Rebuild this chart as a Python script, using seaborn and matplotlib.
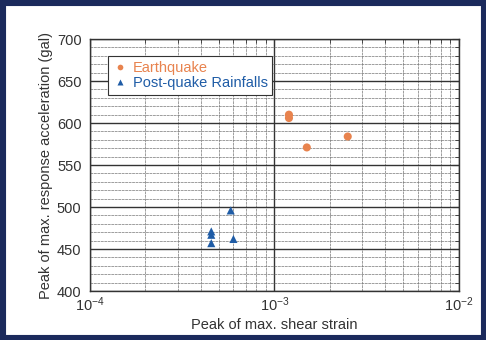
import numpy as np
import pandas as pd
import matplotlib.pyplot as plt
import seaborn as sns
from matplotlib.ticker import LogLocator, MultipleLocator, FixedLocator
from matplotlib.patches import Rectangle

# values
quake_strain = [1.2e-3, 1.2e-3, 1.5e-3, 2.5e-3]
quake_acc = [610, 606, 571, 584]
rain_strain = [4.55e-4, 4.55e-4, 4.55e-4, 5.8e-4, 6.0e-4]
rain_acc = [471, 467, 457, 496, 462]
labels = ["Earthquake", "Post-quake Rainfalls"]

df = pd.DataFrame({
    "strain": quake_strain + rain_strain,
    "acc": quake_acc + rain_acc,
    "case": [labels[0]] * len(quake_strain) + [labels[1]] * len(rain_strain),
})

sns.set_style("white")
plt.rcParams["font.family"] = ["Liberation Sans", "DejaVu Sans"]
plt.rcParams["mathtext.fontset"] = "custom"
plt.rcParams["mathtext.rm"] = "Liberation Sans"
plt.rcParams["mathtext.it"] = "Liberation Sans:italic"
plt.rcParams["mathtext.bf"] = "Liberation Sans:bold"

fig = plt.figure(figsize=(4.86, 3.4), dpi=100, facecolor="white")
# dark slide border
fig.patches.append(Rectangle((0, 0), 1, 1, transform=fig.transFigure,
                             fill=False, edgecolor="#1b2a5c", linewidth=8))
ax = fig.add_axes([0.185, 0.144, 0.759, 0.741])

colors = {labels[0]: "#e8834e", labels[1]: "#1f5ca6"}
sns.scatterplot(data=df, x="strain", y="acc", hue="case", style="case",
                markers={labels[0]: "o", labels[1]: "^"}, palette=colors,
                s=34, edgecolor="none", ax=ax, zorder=3)

ax.set_xscale("log")
ax.set_xlim(1e-4, 1e-2)
ax.set_ylim(400, 700)
ax.yaxis.set_major_locator(MultipleLocator(50))
ax.yaxis.set_minor_locator(MultipleLocator(10))
ax.xaxis.set_major_locator(FixedLocator([1e-4, 1e-3, 1e-2]))
ax.xaxis.set_minor_locator(LogLocator(base=10, subs=np.arange(2, 10)))
ax.set_xticklabels([r"$\mathregular{10^{-4}}$", r"$\mathregular{10^{-3}}$",
                    r"$\mathregular{10^{-2}}$"])

ax.grid(which="major", color="#333333", linewidth=1.0)
ax.grid(which="minor", color="#777777", linewidth=0.5, linestyle=(0, (4, 1)))
ax.set_axisbelow(True)
for sp in ax.spines.values():
    sp.set_color("#333333")
    sp.set_linewidth(1.0)
ax.tick_params(which="both", direction="in", top=True, right=True,
               color="#333333", labelsize=10.5, labelcolor="#333333")
ax.tick_params(which="major", length=5)
ax.tick_params(which="minor", length=3)
ax.tick_params(axis="x", pad=3)
ax.tick_params(axis="y", pad=6)

ax.set_xlabel("Peak of max. shear strain", fontsize=10.5, color="#333333",
              labelpad=3)
ax.set_ylabel("Peak of max. response acceleration (gal)", fontsize=10.5,
              color="#333333", labelpad=3)

leg = ax.legend(loc="upper left", bbox_to_anchor=(0.03, 0.96), fontsize=10.5,
                frameon=True, fancybox=False, shadow=False, edgecolor="#333333",
                handletextpad=0.4, borderpad=0.3, labelspacing=0.1,
                handlelength=1.0, markerscale=0.7, framealpha=1)
leg.get_frame().set_linewidth(0.8)
for t in leg.get_texts():
    t.set_color(colors[t.get_text()])

fig.savefig("out.png", dpi=100, facecolor=fig.get_facecolor())
